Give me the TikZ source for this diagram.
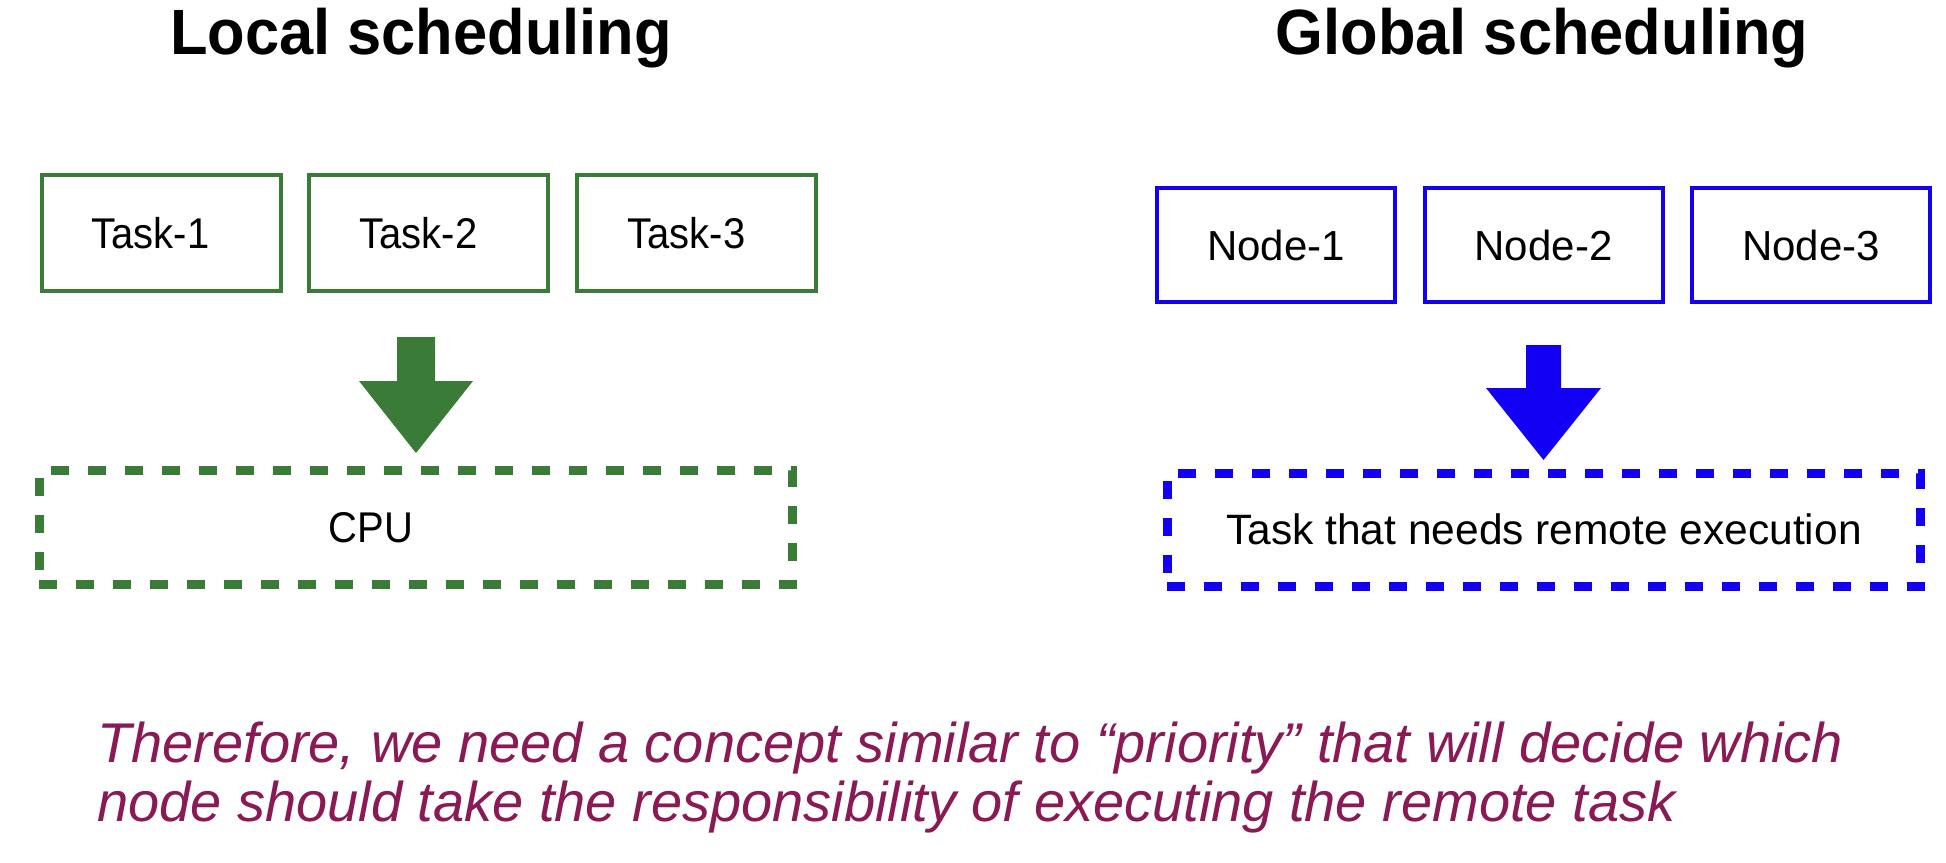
\documentclass[tikz,border=0pt]{standalone}
\usepackage{fontspec}
\setmainfont{Liberation Sans}
\definecolor{lgreen}{RGB}{58,123,55}
\definecolor{lblue}{RGB}{18,0,245}
\definecolor{maroon}{RGB}{138,25,84}
\newcommand{\narrowtxt}[1]{\scalebox{0.93}[1]{#1}}
\newcommand{\narrowtitle}[1]{\scalebox{0.96}[1]{#1}}
\tikzset{
  titletext/.style={font=\fontsize{64}{70}\selectfont\bfseries, anchor=base},
  taskbox/.style={draw=lgreen, line width=4pt, minimum width=239pt, minimum height=116pt, inner sep=0pt, font=\fontsize{43}{46}\selectfont},
  nodebox/.style={draw=lblue, line width=4pt, minimum width=238pt, minimum height=114pt, inner sep=0pt, font=\fontsize{42}{46}\selectfont},
  dashbox/.style={line width=9pt, dash pattern=on 18pt off 19pt, minimum width=753.5pt, inner sep=0pt},
  bottomtext/.style={font=\fontsize{56}{62}\selectfont\itshape, text=maroon, anchor=base west, inner sep=0pt}
}
\begin{document}
\begin{tikzpicture}[x=1pt,y=-1pt]
\useasboundingbox (0,0) rectangle (1946,862);
\fill[white] (0,0) rectangle (1946,862);

% titles
\node[titletext] (ltitle) at (421,54) {\narrowtitle{Local scheduling}};
\node[titletext] (gtitle) at (1542,54) {\narrowtitle{Global scheduling}};

% local side
\node[taskbox] (t1) at (161.5,233) {\hspace*{-22pt}\narrowtxt{Task-1}};
\node[taskbox] (t2) at (428.5,233) {\hspace*{-20pt}\narrowtxt{Task-2}};
\node[taskbox] (t3) at (696.5,233) {\hspace*{-20pt}\narrowtxt{Task-3}};
\fill[lgreen] (397,337) -- (435,337) -- (435,381) -- (473,381) -- (416,453) -- (359,381) -- (397,381) -- cycle;
\node[dashbox, draw=lgreen, minimum height=114pt, font=\fontsize{43}{46}\selectfont] (cpu) at (416,527.5) {\hspace*{-90pt}\narrowtxt{CPU}};

% global side
\node[nodebox] (n1) at (1276,245) {Node-1};
\node[nodebox] (n2) at (1543.5,245) {Node-2};
\node[nodebox] (n3) at (1811,245) {Node-3};
\fill[lblue] (1526,345) -- (1561,345) -- (1561,388) -- (1601,388) -- (1543.5,460) -- (1486,388) -- (1526,388) -- cycle;
\node[dashbox, draw=lblue, minimum height=113pt, font=\fontsize{42.5}{46}\selectfont] (rt) at (1544,529.5) {Task that needs remote execution};

% bottom text
\node[bottomtext] (b1) at (97,762) {Therefore, we need a concept similar to “priority” that will decide which};
\node[bottomtext] (b2) at (97,821) {node should take the responsibility of executing the remote task};
\end{tikzpicture}
\end{document}
